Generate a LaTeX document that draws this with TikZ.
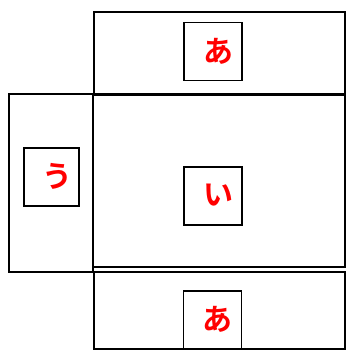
\documentclass[tikz,border=0pt]{standalone}
\usepackage{fontspec}
\newfontfamily\jpfont{Noto Sans CJK JP Bold}
\tikzset{
  face/.style={draw,line width=1.6pt},
  label box/.style={draw,line width=1.6pt,minimum width=58pt,minimum height=58pt,
    inner sep=0pt,text=red,font=\jpfont\fontsize{30}{30}\selectfont}
}
\begin{document}
\begin{tikzpicture}[x=1pt,y=-1pt]
   \useasboundingbox (0,0) rectangle (350,361);
   % Faces
   \draw[face] (94,12) rectangle (345,94);
   \draw[face] (93,95) rectangle (345,267);
   \draw[face] (94,272) rectangle (345,349);
   \draw[face] (9,94) rectangle (93,272);
   % Labels
   \node[label box] (top)    at (213,51.5)  {\hspace{10pt}\raisebox{3pt}{あ}};
   \node[label box] (middle) at (213,196)   {\hspace{10pt}\raisebox{3pt}{い}};
   \node[label box] (bottom) at (212.5,320) {\hspace{10pt}\raisebox{3pt}{あ}};
   \node[label box,minimum width=55pt] (side) at (51.5,177) {\hspace{12pt}\raisebox{3pt}{う}};
\end{tikzpicture}
\end{document}
